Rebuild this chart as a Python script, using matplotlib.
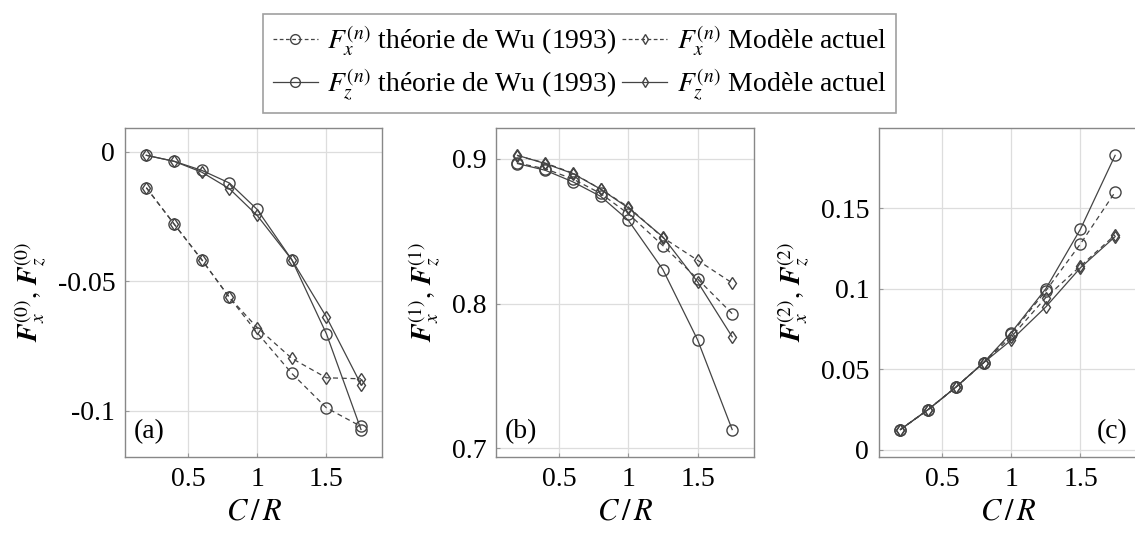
import matplotlib
matplotlib.use('Agg')
import matplotlib.pyplot as plt
from matplotlib.lines import Line2D

plt.rcParams['font.family'] = ['Liberation Serif', 'DejaVu Serif']
plt.rcParams['mathtext.fontset'] = 'stix'

# C/R values
cr = [0.2, 0.4, 0.6, 0.8, 1.0, 1.25, 1.5, 1.75]

# (a) n = 0
fx0_wu = [-0.0138, -0.0278, -0.0416, -0.0562, -0.0698, -0.0855, -0.0988, -0.1060]
fx0_mod = [-0.0138, -0.0278, -0.0416, -0.0562, -0.0678, -0.0797, -0.0872, -0.0876]
fz0_wu = [-0.0013, -0.0036, -0.0071, -0.0120, -0.0222, -0.0416, -0.0702, -0.1072]
fz0_mod = [-0.0013, -0.0036, -0.0078, -0.0142, -0.0245, -0.0416, -0.0637, -0.0898]

# (b) n = 1
fx1_wu = [0.8970, 0.8930, 0.8860, 0.8760, 0.8620, 0.8400, 0.8170, 0.7930]
fx1_mod = [0.9020, 0.8970, 0.8900, 0.8790, 0.8667, 0.8455, 0.8299, 0.8142]
fz1_wu = [0.8966, 0.8920, 0.8840, 0.8740, 0.8575, 0.8234, 0.7750, 0.7130]
fz1_mod = [0.9023, 0.8966, 0.8897, 0.8790, 0.8660, 0.8460, 0.8150, 0.7770]

# (c) n = 2
fx2_wu = [0.0125, 0.0249, 0.0388, 0.0540, 0.0720, 0.0987, 0.1278, 0.1600]
fx2_mod = [0.0125, 0.0249, 0.0388, 0.0540, 0.0700, 0.0945, 0.1140, 0.1334]
fz2_wu = [0.0125, 0.0249, 0.0388, 0.0540, 0.0727, 0.1000, 0.1370, 0.1828]
fz2_mod = [0.0125, 0.0249, 0.0388, 0.0540, 0.0680, 0.0887, 0.1130, 0.1323]

panels = [
    ('(a)', 0, fx0_wu, fx0_mod, fz0_wu, fz0_mod, [0, -0.05, -0.1], ['0', '-0.05', '-0.1']),
    ('(b)', 1, fx1_wu, fx1_mod, fz1_wu, fz1_mod, [0.7, 0.8, 0.9], ['0.7', '0.8', '0.9']),
    ('(c)', 2, fx2_wu, fx2_mod, fz2_wu, fz2_mod, [0, 0.05, 0.1, 0.15], ['0', '0.05', '0.1', '0.15']),
]

lc = '#444444'
fs = 20

fig = plt.figure(figsize=(11.35, 5.36), dpi=100)
lefts = [0.110, 0.437, 0.7744]

for (lab, n, fxw, fxm, fzw, fzm, yt, ytl), left in zip(panels, lefts):
    ax = fig.add_axes([left, 0.1474, 0.227, 0.614])
    ax.plot(cr, fxw, '--', color=lc, lw=0.9, marker='o', ms=8, mfc='none', mew=1.0, dashes=(4, 3))
    ax.plot(cr, fxm, '--', color=lc, lw=0.9, marker='d', ms=6, mfc='none', mew=1.0, dashes=(4, 3))
    ax.plot(cr, fzw, '-', color=lc, lw=0.9, marker='o', ms=8, mfc='none', mew=1.0)
    ax.plot(cr, fzm, '-', color=lc, lw=0.9, marker='d', ms=6, mfc='none', mew=1.0)

    allv = fxw + fxm + fzw + fzm
    lo, hi = min(allv), max(allv)
    pad = 0.1 * (hi - lo)
    ax.set_ylim(lo - pad, hi + pad)
    ax.set_xlim(0.2 - 0.155, 1.75 + 0.155)

    ax.set_xticks([0.5, 1, 1.5])
    ax.set_xticklabels(['0.5', '1', '1.5'])
    ax.set_yticks(yt)
    ax.set_yticklabels(ytl)
    ax.tick_params(direction='in', length=3, color='#999999', labelsize=fs, pad=7)
    ax.grid(True, color='#dddddd', lw=0.9)
    ax.set_axisbelow(True)
    for s in ax.spines.values():
        s.set_color('#888888')
        s.set_linewidth(1.0)

    ax.set_xlabel(r'$C\,/\,R$', fontsize=fs + 2, labelpad=4)
    ax.set_ylabel(r'$\boldsymbol{F}_x^{(%d)},\,\boldsymbol{F}_z^{(%d)}$' % (n, n), fontsize=fs, labelpad=6)

    if lab == '(c)':
        ax.text(0.965, 0.04, lab, transform=ax.transAxes, ha='right', va='bottom', fontsize=fs)
    else:
        ax.text(0.035, 0.04, lab, transform=ax.transAxes, ha='left', va='bottom', fontsize=fs)

handles = [
    Line2D([], [], color=lc, lw=0.9, ls='--', dashes=(3, 2), marker='o', ms=7, mfc='none'),
    Line2D([], [], color=lc, lw=0.9, ls='-', marker='o', ms=7, mfc='none'),
    Line2D([], [], color=lc, lw=0.9, ls='--', dashes=(3, 2), marker='d', ms=5, mfc='none'),
    Line2D([], [], color=lc, lw=0.9, ls='-', marker='d', ms=5, mfc='none'),
]
labels = [
    r'$F_x^{(n)}$ théorie de Wu (1993)',
    r'$F_z^{(n)}$ théorie de Wu (1993)',
    r'$F_x^{(n)}$ Modèle actuel',
    r'$F_z^{(n)}$ Modèle actuel',
]
leg = fig.legend(handles, labels, ncol=2, loc='upper center', bbox_to_anchor=(0.511, 1.0),
                 fontsize=fs, frameon=True, fancybox=False, edgecolor='#888888',
                 handlelength=1.6, handletextpad=0.35, columnspacing=0.2, labelspacing=0.3,
                 borderpad=0.35)
leg.get_frame().set_linewidth(1.2)

fig.savefig('out.png', dpi=100)
